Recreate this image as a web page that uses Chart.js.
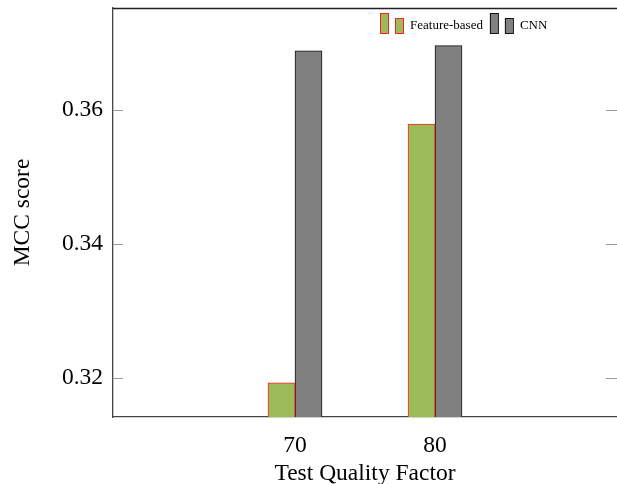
<!DOCTYPE html>
<html>
<head>
<meta charset="utf-8">
<script src="https://cdn.jsdelivr.net/npm/chart.js@4"></script>
<style>
  body { margin: 0; background: #fff; }
</style>
</head>
<body>
<canvas id="barChart" width="617" height="484"></canvas>
<script>
// data
var qualityFactors = [70, 80];
var featureScores = [0.3193, 0.3579];
var cnnScores = [0.3688, 0.3696];
var yTickValues = [0.32, 0.34, 0.36];
var seriesNames = ['Feature-based', 'CNN'];

var serif = '"Liberation Serif", "Times New Roman", serif';
var bigFont = 23.5;

function points(vals) {
    return qualityFactors.map(function (q, i) { return { x: q, y: vals[i] }; });
}

// box on top + inner ticks + pgfplots-ish legend
var framePlugin = {
    id: 'frame',
    afterDraw: function (chart) {
        var c = chart.ctx, a = chart.chartArea, y = chart.scales.y;
        c.save();
        c.strokeStyle = '#222';
        c.lineWidth = 1.3;
        c.beginPath();
        c.moveTo(a.left, a.top + 0.5);
        c.lineTo(a.right, a.top + 0.5);
        c.stroke();

        c.strokeStyle = '#999';
        c.lineWidth = 1;
        y.ticks.forEach(function (t) {
            var py = Math.round(y.getPixelForValue(t.value)) + 0.5;
            c.beginPath();
            c.moveTo(a.left, py); c.lineTo(a.left + 10, py);
            c.moveTo(a.right - 11, py); c.lineTo(a.right, py);
            c.stroke();
        });

        // legend: two little bars per entry
        var x = 380, base = 33;
        c.font = '13px ' + serif;
        c.textBaseline = 'middle';
        chart.data.datasets.forEach(function (ds) {
            c.fillStyle = ds.backgroundColor;
            c.strokeStyle = ds.borderColor;
            c.lineWidth = 1;
            c.fillRect(x, base - 20, 8, 20);
            c.strokeRect(x + 0.5, base - 19.5, 8, 20);
            c.fillRect(x + 15, base - 15, 8, 15);
            c.strokeRect(x + 15.5, base - 14.5, 8, 15);
            c.fillStyle = '#000';
            c.fillText(ds.label, x + 30, 26);
            x += 30 + c.measureText(ds.label).width + 7;
        });
        c.restore();
    }
};

function noPad(s) {
    s.paddingTop = 0; s.paddingBottom = 0;
    s.paddingLeft = 0; s.paddingRight = 0;
}

var ctx = document.getElementById('barChart').getContext('2d');
var myChart = new Chart(ctx, {
    type: 'bar',
    data: {
        datasets: [
            {
                label: seriesNames[0],
                data: points(featureScores),
                backgroundColor: '#9BBB59',
                borderColor: '#FF2020',
                borderWidth: 1,
                barThickness: 27
            },
            {
                label: seriesNames[1],
                data: points(cnnScores),
                backgroundColor: '#808080',
                borderColor: '#111',
                borderWidth: 1,
                barThickness: 27
            }
        ]
    },
    options: {
        responsive: false,
        animation: false,
        layout: { padding: { top: 8, right: 0, left: 0, bottom: 0 } },
        plugins: {
            legend: { display: false },
            tooltip: { enabled: false }
        },
        scales: {
            x: {
                type: 'linear',
                offset: false,
                min: 57,
                max: 93,
                afterBuildTicks: function (s) {
                    s.ticks = qualityFactors.map(function (v) { return { value: v }; });
                },
                afterFit: function (s) { s.height = 67; noPad(s); },
                grid: { display: false, drawTicks: false },
                border: { display: true, color: '#444', width: 1.3 },
                ticks: {
                    padding: 15,
                    color: '#000',
                    font: { family: serif, size: bigFont },
                    callback: function (v) { return String(v); }
                },
                title: {
                    display: true,
                    text: 'Test Quality Factor',
                    color: '#000',
                    padding: { top: 0, bottom: -4 },
                    font: { family: serif, size: bigFont }
                }
            },
            y: {
                min: 0.3142,
                max: 0.3752,
                afterBuildTicks: function (s) {
                    s.ticks = yTickValues.map(function (v) { return { value: v }; });
                },
                afterFit: function (s) { s.width = 113; noPad(s); },
                grid: { display: false, drawTicks: false },
                border: { display: true, color: '#444', width: 1.3 },
                ticks: {
                    padding: 10,
                    color: '#000',
                    font: { family: serif, size: bigFont },
                    callback: function (v) { return v.toFixed(2); }
                },
                title: {
                    display: true,
                    text: 'MCC score',
                    color: '#000',
                    padding: { top: 9, bottom: 0 },
                    font: { family: serif, size: bigFont }
                }
            }
        }
    },
    plugins: [framePlugin]
});
</script>
</body>
</html>
